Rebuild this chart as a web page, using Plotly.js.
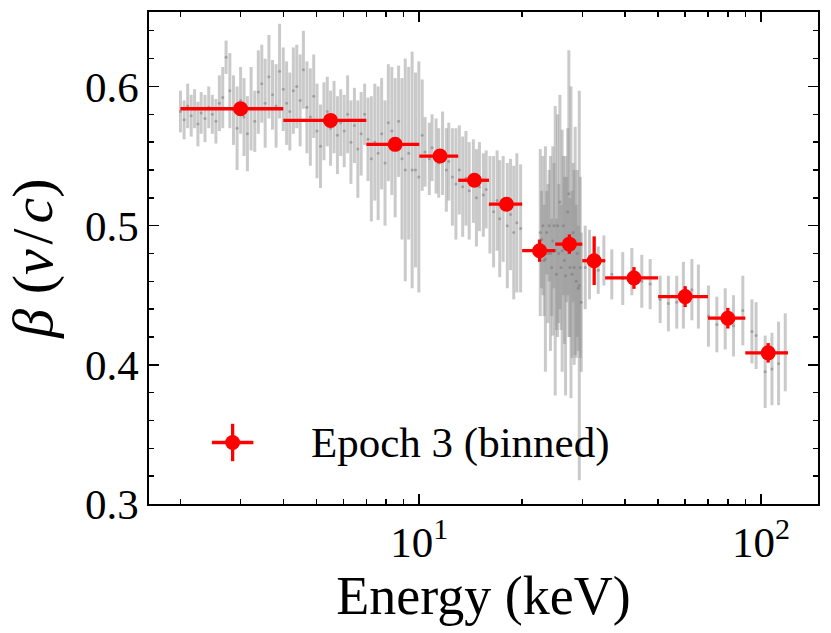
<!DOCTYPE html>
<html>
<head>
<meta charset="utf-8">
<script src="https://cdn.plot.ly/plotly-3.0.1.min.js"></script>
<style>
  body { margin: 0; background: #fff; }
  #chartdiv { width: 831px; height: 633px; }
</style>
</head>
<body>
<div id="chartdiv"></div>
<script>
// unbinned spectrum (grey)
const grayE = [
  2.00, 2.05, 2.10, 2.15, 2.20, 2.25, 2.30, 2.36, 2.42, 2.48,
  2.54, 2.60, 2.66, 2.72, 2.79, 2.86, 2.93, 3.00, 3.07, 3.14,
  3.22, 3.30, 3.38, 3.46, 3.54, 3.63, 3.72, 3.81, 3.90, 4.00,
  4.09, 4.18, 4.28, 4.38, 4.48, 4.58, 4.69, 4.80, 4.91, 5.02,
  5.14, 5.26, 5.38, 5.50, 5.63, 5.76, 5.89, 6.03, 6.17, 6.31,
  6.46, 6.61, 6.76, 6.92, 7.08, 7.24, 7.41, 7.58, 7.76, 7.94,
  8.12, 8.31, 8.50, 8.70, 8.90, 9.10, 9.31, 9.53, 9.75, 9.97,
  10.2, 10.4, 10.7, 10.9, 11.2, 11.4, 11.7, 12.0, 12.2, 12.5,
  12.8, 13.1, 13.4, 13.7, 14.0, 14.4, 14.7, 15.0, 15.4, 15.7,
  16.1, 16.5, 16.9, 17.2, 17.6, 18.1, 18.5, 18.9, 19.3, 19.8,
  22.6, 22.8, 23.0, 23.2, 23.4, 23.6, 23.8, 24.0, 24.2, 24.4,
  24.6, 24.8, 25.0, 25.2, 25.4, 25.6, 25.8, 26.0, 26.2, 26.4,
  26.6, 26.8, 27.0, 27.2, 27.4, 27.6, 27.8, 28.0, 28.2, 28.4,
  28.6, 28.8, 29.0, 29.2, 29.4, 29.6, 29.8,
  30.6, 31.5, 33.4, 34.7, 36.6, 39.4, 41.9, 44.8, 47.4, 50.7,
  53.6, 56.7, 59.3, 62.8, 65.6, 70.2, 74.3, 78.6, 83.1, 88.5,
  94.1, 96.8, 102.9, 107.7, 112.6, 117.8
];
const grayBeta = [
  0.582, 0.576, 0.586, 0.579, 0.584, 0.573, 0.581, 0.577, 0.585, 0.580,
  0.575, 0.588, 0.592, 0.621, 0.597, 0.583, 0.570, 0.590, 0.578, 0.566,
  0.584, 0.575, 0.596, 0.602, 0.588, 0.607, 0.594, 0.586, 0.611, 0.598,
  0.588, 0.582, 0.597, 0.600, 0.590, 0.612, 0.585, 0.578, 0.593, 0.568,
  0.557, 0.575, 0.582, 0.570, 0.578, 0.565, 0.574, 0.568, 0.580, 0.560,
  0.572, 0.555, 0.566, 0.580, 0.562, 0.548, 0.560, 0.552, 0.566, 0.545,
  0.574, 0.568, 0.556, 0.575, 0.548, 0.540, 0.552, 0.540, 0.540, 0.535,
  0.565, 0.553, 0.548, 0.556, 0.550, 0.545, 0.552, 0.540, 0.546, 0.535,
  0.530, 0.540, 0.528, 0.534, 0.525, 0.532, 0.520, 0.528, 0.522, 0.526,
  0.515, 0.510, 0.518, 0.505, 0.512, 0.500, 0.508, 0.495, 0.502, 0.498,
  0.495, 0.490, 0.500, 0.475, 0.476, 0.495, 0.480, 0.500, 0.480, 0.470,
  0.489, 0.500, 0.482, 0.465, 0.500, 0.480, 0.517, 0.470, 0.482, 0.500,
  0.475, 0.464, 0.490, 0.510, 0.523, 0.470, 0.488, 0.465, 0.495, 0.470,
  0.489, 0.460, 0.480, 0.455, 0.457, 0.470, 0.445,
  0.470, 0.472, 0.468, 0.475, 0.465, 0.462, 0.467, 0.460, 0.458, 0.447,
  0.444, 0.445, 0.450, 0.454, 0.449, 0.435, 0.429, 0.433, 0.428, 0.439,
  0.424, 0.421, 0.395, 0.397, 0.401, 0.409
];
const grayErr = [
  0.015, 0.014, 0.016, 0.015, 0.014, 0.016, 0.015, 0.017, 0.015, 0.014,
  0.016, 0.020, 0.022, 0.012, 0.027, 0.025, 0.030, 0.024, 0.028, 0.027,
  0.030, 0.022, 0.030, 0.028, 0.032, 0.030, 0.025, 0.030, 0.034, 0.030,
  0.030, 0.028, 0.031, 0.030, 0.033, 0.028, 0.033, 0.035, 0.030, 0.034,
  0.030, 0.028, 0.025, 0.027, 0.026, 0.028, 0.024, 0.026, 0.028, 0.030,
  0.027, 0.035, 0.030, 0.022, 0.030, 0.045, 0.042, 0.048, 0.040, 0.045,
  0.042, 0.046, 0.050, 0.040, 0.058, 0.080, 0.062, 0.085, 0.070, 0.083,
  0.040, 0.025, 0.026, 0.024, 0.027, 0.025, 0.030, 0.030, 0.028, 0.035,
  0.040, 0.032, 0.036, 0.034, 0.035, 0.030, 0.035, 0.032, 0.030, 0.028,
  0.035, 0.040, 0.036, 0.042, 0.038, 0.045, 0.040, 0.048, 0.050, 0.046,
  0.060, 0.035, 0.050, 0.040, 0.081, 0.030, 0.050, 0.040, 0.070, 0.035,
  0.068, 0.045, 0.104, 0.040, 0.080, 0.050, 0.077, 0.045, 0.087, 0.050,
  0.060, 0.086, 0.045, 0.060, 0.103, 0.050, 0.112, 0.060, 0.050, 0.070,
  0.082, 0.055, 0.060, 0.045, 0.140, 0.065, 0.050,
  0.030, 0.025, 0.017, 0.018, 0.018, 0.019, 0.017, 0.019, 0.018, 0.017,
  0.020, 0.019, 0.024, 0.022, 0.023, 0.022, 0.020, 0.022, 0.022, 0.025,
  0.023, 0.024, 0.026, 0.026, 0.030, 0.028
];

// Epoch 3 binned (red)
const binE = [3, 5.5, 8.5, 11.5, 14.5, 18, 22.5, 27.5, 32.5, 42.5, 60, 80, 105];
const binHalfWidth = [1, 1.5, 1.5, 1.5, 1.5, 2, 2.5, 2.5, 2.5, 7.5, 10, 10, 15];
const binBeta = [0.584, 0.5756, 0.5584, 0.550, 0.5326, 0.5154, 0.482, 0.4867, 0.4748, 0.4624, 0.449, 0.4335, 0.4086];
const binErr = [0.003, 0.003, 0.003, 0.003, 0.003, 0.004, 0.008, 0.007, 0.0175, 0.0078, 0.0075, 0.0074, 0.007];

const xTickVals = [10, 100];
const xTickText = ['10<sup>1</sup>', '10<sup>2</sup>'];
const xMinorVals = [2, 3, 4, 5, 6, 7, 8, 9, 20, 30, 40, 50, 60, 70, 80, 90];
const yTickVals = [0.3, 0.4, 0.5, 0.6];
const yTickText = ['0.3', '0.4', '0.5', '0.6'];

const serif = 'Liberation Serif, Times New Roman, serif';
const red = '#ff0000';

const gray = {
  x: grayE, y: grayBeta,
  type: 'scatter', mode: 'markers',
  marker: {size: 3, color: 'rgba(115,115,115,0.5)'},
  error_y: {type: 'data', array: grayErr, visible: true, color: 'rgba(145,145,145,0.48)', thickness: 3, width: 0},
  showlegend: false, hoverinfo: 'skip'
};

const binned = {
  x: binE, y: binBeta,
  type: 'scatter', mode: 'markers',
  marker: {size: 15, color: red},
  error_x: {type: 'data', array: binHalfWidth, visible: true, color: red, thickness: 3.3, width: 0},
  error_y: {type: 'data', array: binErr, visible: true, color: red, thickness: 3.3, width: 0},
  showlegend: false
};

// hand made legend entry on a hidden 0..1 overlay
const legendMark = {
  x: [0.125], y: [0.125], xaxis: 'x2', yaxis: 'y2',
  type: 'scatter', mode: 'markers',
  marker: {size: 15, color: red},
  error_x: {type: 'data', array: [0.031], visible: true, color: red, thickness: 3.3, width: 0},
  error_y: {type: 'data', array: [0.038], visible: true, color: red, thickness: 3.3, width: 0},
  showlegend: false, hoverinfo: 'skip'
};

const axisStyle = {
  showline: true, linecolor: 'black', linewidth: 1.7,
  mirror: 'allticks',
  ticks: 'inside', ticklen: 10, tickwidth: 1.7, tickcolor: 'black',
  showgrid: false, zeroline: false,
  tickfont: {family: serif, size: 43, color: 'black'}
};

const layout = {
  width: 831, height: 633,
  margin: {l: 149, r: 13, t: 12, b: 129},
  paper_bgcolor: 'white', plot_bgcolor: 'white',
  showlegend: false,
  xaxis: Object.assign({}, axisStyle, {
    type: 'log', range: [0.209, 2.167],
    tickmode: 'array', tickvals: xTickVals, ticktext: xTickText,
    minor: {tickmode: 'array', tickvals: xMinorVals, ticks: 'inside', ticklen: 5, tickwidth: 1.4, tickcolor: 'black', showgrid: false},
    title: {text: 'Energy (keV)', font: {family: serif, size: 54, color: 'black'}, standoff: 4}
  }),
  yaxis: Object.assign({}, axisStyle, {
    range: [0.3, 0.6535],
    tickmode: 'array', tickvals: yTickVals, ticktext: yTickText,
    minor: {dtick: 0.02, tick0: 0.3, ticks: 'inside', ticklen: 5, tickwidth: 1.4, tickcolor: 'black', showgrid: false},
    title: {text: '<i>β</i> (<i>v</i>\u200A/\u200A<i>c</i>)', font: {family: serif, size: 58, color: 'black'}, standoff: 18}
  }),
  xaxis2: {overlaying: 'x', range: [0, 1], visible: false, fixedrange: true},
  yaxis2: {overlaying: 'y', range: [0, 1], visible: false, fixedrange: true},
  annotations: [{
    text: 'Epoch 3 (binned)', xref: 'paper', yref: 'paper',
    x: 0.239, y: 0.125, xanchor: 'left', yanchor: 'middle', showarrow: false,
    font: {family: serif, size: 43, color: 'black'}
  }]
};

Plotly.newPlot(chartdiv, [gray, binned, legendMark], layout, {staticPlot: true, displayModeBar: false});
</script>
</body>
</html>
